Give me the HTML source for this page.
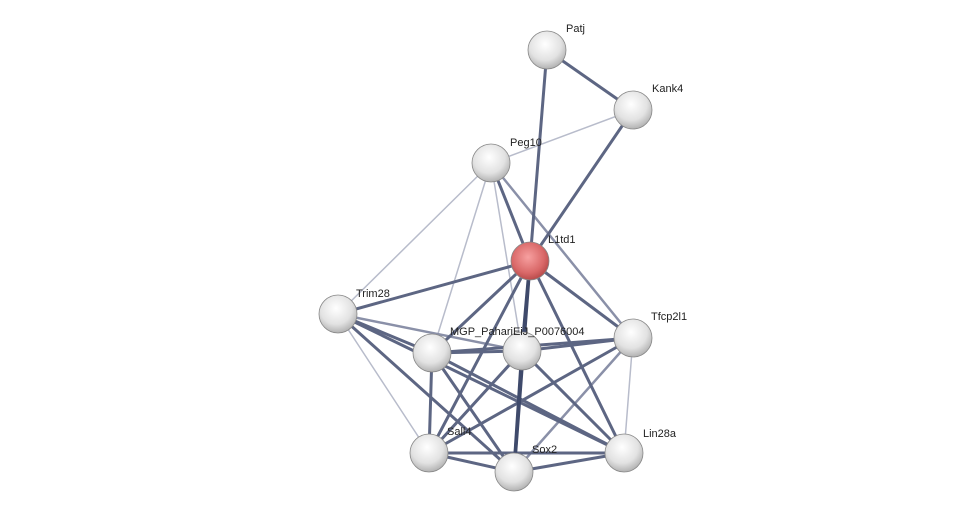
<!DOCTYPE html>
<html><head><style>body{margin:0;background:#fff}svg{display:block}</style></head><body>
<svg width="976" height="516" viewBox="0 0 976 516" xmlns="http://www.w3.org/2000/svg" font-family="Liberation Sans, sans-serif" font-size="11">
<defs>
<radialGradient id="g" cx="0.45" cy="0.35" r="0.7"><stop offset="0" stop-color="#ffffff"/><stop offset="0.6" stop-color="#e2e2e2"/><stop offset="1" stop-color="#a8a8a8"/></radialGradient>
<radialGradient id="r" cx="0.45" cy="0.4" r="0.7"><stop offset="0" stop-color="#f7a0a0"/><stop offset="0.6" stop-color="#d96868"/><stop offset="1" stop-color="#a63b3b"/></radialGradient>
</defs>
<g stroke-linecap="round">
<g stroke="#b8bccb" stroke-width="1.5">
<line x1="491" y1="163" x2="633" y2="110"/><line x1="491" y1="163" x2="338" y2="314"/><line x1="491" y1="163" x2="432" y2="353"/><line x1="491" y1="163" x2="522" y2="351"/><line x1="338" y1="314" x2="429" y2="453"/><line x1="633" y1="338" x2="624" y2="453"/>
</g>
<g stroke="#8a90a8" stroke-width="2.5">
<line x1="491" y1="163" x2="633" y2="338"/><line x1="633" y1="338" x2="514" y2="472"/><line x1="338" y1="314" x2="522" y2="351"/>
</g>
<g stroke="#5d6683" stroke-width="3">
<line x1="547" y1="50" x2="633" y2="110"/><line x1="547" y1="50" x2="530" y2="261"/><line x1="633" y1="110" x2="530" y2="261"/><line x1="491" y1="163" x2="530" y2="261"/>
<line x1="530" y1="261" x2="338" y2="314"/><line x1="530" y1="261" x2="432" y2="353"/><line x1="530" y1="261" x2="633" y2="338"/><line x1="530" y1="261" x2="429" y2="453"/><line x1="530" y1="261" x2="624" y2="453"/>
<line x1="338" y1="314" x2="432" y2="353"/><line x1="338" y1="314" x2="514" y2="472"/><line x1="338" y1="314" x2="624" y2="453"/>
<line x1="432" y1="353" x2="522" y2="351"/><line x1="432" y1="353" x2="633" y2="338"/><line x1="432" y1="353" x2="429" y2="453"/><line x1="432" y1="353" x2="514" y2="472"/><line x1="432" y1="353" x2="624" y2="453"/>
<line x1="522" y1="351" x2="633" y2="338"/><line x1="522" y1="351" x2="429" y2="453"/><line x1="522" y1="351" x2="624" y2="453"/><line x1="633" y1="338" x2="429" y2="453"/>
<line x1="429" y1="453" x2="514" y2="472"/><line x1="429" y1="453" x2="624" y2="453"/><line x1="514" y1="472" x2="624" y2="453"/>
</g>
<g stroke="#3f4a6b" stroke-width="3.5">
<line x1="530" y1="261" x2="522" y2="351"/><line x1="522" y1="351" x2="514" y2="472"/><line x1="530" y1="261" x2="514" y2="472"/>
</g>
</g>
<g stroke="#888" stroke-width="0.8">
<circle cx="547" cy="50" r="19" fill="url(#g)"/><circle cx="633" cy="110" r="19" fill="url(#g)"/><circle cx="491" cy="163" r="19" fill="url(#g)"/>
<circle cx="338" cy="314" r="19" fill="url(#g)"/><circle cx="432" cy="353" r="19" fill="url(#g)"/><circle cx="522" cy="351" r="19" fill="url(#g)"/>
<circle cx="633" cy="338" r="19" fill="url(#g)"/><circle cx="429" cy="453" r="19" fill="url(#g)"/><circle cx="514" cy="472" r="19" fill="url(#g)"/><circle cx="624" cy="453" r="19" fill="url(#g)"/>
<circle cx="530" cy="261" r="19" fill="url(#r)"/>
</g>
<g fill="#222">
<text x="566" y="32">Patj</text><text x="652" y="92">Kank4</text><text x="510" y="146">Peg10</text><text x="548" y="243">L1td1</text>
<text x="356" y="297">Trim28</text><text x="450" y="335">MGP_PahariEiJ_P0076004</text><text x="651" y="320">Tfcp2l1</text>
<text x="447" y="435">Sall4</text><text x="532" y="453">Sox2</text><text x="643" y="437">Lin28a</text>
</g>
</svg>
</body></html>
